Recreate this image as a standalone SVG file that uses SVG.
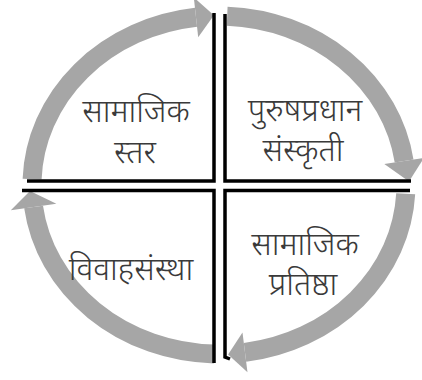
<svg xmlns="http://www.w3.org/2000/svg" width="422" height="380" viewBox="0 0 422 380">
<style>
.band{fill:none;stroke:#A6A6A6;stroke-width:19;stroke-linecap:butt}
.head{fill:#A6A6A6}
.frame{fill:none;stroke:#000;stroke-width:3.5;stroke-linejoin:miter}
.lbl{font-family:"Noto Sans Devanagari","Noto Serif Devanagari","Lohit Devanagari","FreeSerif","Noto Sans",sans-serif;font-size:32px;font-weight:300;fill:#3a3a3a;text-anchor:middle}
</style>
<rect width="422" height="380" fill="#fff"/>
<g id="connectors">
<path class="band" d="M32.1 179.1 A187 169 0 0 1 196 17.3"/>
<polygon class="head" points="198.2,37.2 213.9,15.3 193.8,-2.6"/>
<path class="band" d="M227.2 16.2 A187 169 0 0 1 404.1 161"/>
<polygon class="head" points="423.9,157.9 409,181.5 384.3,164.1"/>
<path class="band" d="M405.7 193.8 A187 169 0 0 1 245 352.4"/>
<polygon class="head" points="247.5,372.2 228.1,354.5 242.5,332.6"/>
<path class="band" d="M214 353.9 A187 169 0 0 1 33.6 207"/>
<polygon class="head" points="56.4,203.8 30,191 10.8,210.2"/>
</g>
<g id="q1">
<polyline class="frame" points="214,13 214,181 27,181"/>
<text class="lbl" x="136" y="122">सामाजिक</text>
<text class="lbl" x="135" y="163">स्तर</text>
</g>
<g id="q2">
<polyline class="frame" points="225,14 225,181 411,181"/>
<text class="lbl" x="305" y="121">पुरुषप्रधान</text>
<text class="lbl" x="303" y="161">संस्कृती</text>
</g>
<g id="q3">
<polyline class="frame" points="22,190.5 214,190.5 214,363"/>
<text class="lbl" x="131" y="280">विवाहसंस्था</text>
</g>
<g id="q4">
<polyline class="frame" points="410,190.5 225,190.5 225,357 230,359"/>
<text class="lbl" x="305" y="255">सामाजिक</text>
<text class="lbl" x="303" y="295">प्रतिष्ठा</text>
</g>
</svg>
